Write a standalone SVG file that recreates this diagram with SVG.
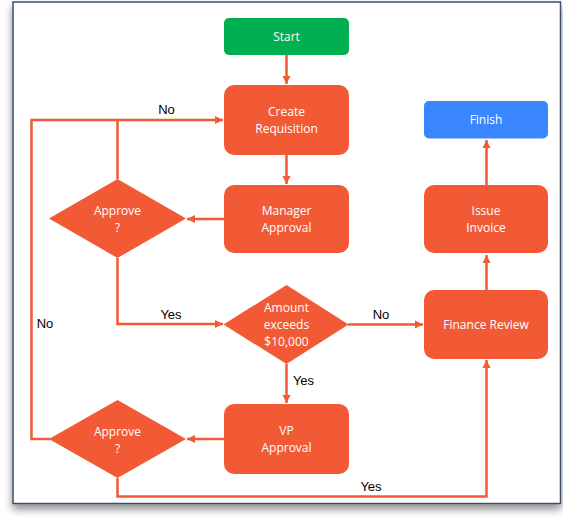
<svg xmlns="http://www.w3.org/2000/svg" width="563" height="518" viewBox="0 0 563 518">
<defs>
<filter id="sh" x="-5%" y="-5%" width="110%" height="112%">
<feDropShadow dx="0" dy="5" stdDeviation="4" flood-color="#000" flood-opacity="0.45"/>
</filter>
<marker id="ah" viewBox="0 0 10 10" refX="10" refY="5" markerWidth="8" markerHeight="9" markerUnits="userSpaceOnUse" orient="auto">
<path d="M0,0 L10,5 L0,10 z" fill="#f15a35"/>
</marker>
<style>
.proc{fill:#f15a35}
.start{fill:#00b050}
.finish{fill:#3a86ff}
.nt{font-family:"Open Sans","Noto Sans",sans-serif;font-size:12px;fill:#ffffff;text-anchor:middle}
.lbl{font-family:"Liberation Sans",Arial,sans-serif;font-size:13px;fill:#000000;text-anchor:middle}
.conn{fill:none;stroke:#f15a35;stroke-width:2.5}
</style>
</defs>
<rect x="13" y="2" width="547.5" height="501.5" fill="#ffffff" stroke="#3d4f6b" stroke-width="1.5" filter="url(#sh)"/>

<g id="connectors">
<path class="conn" d="M286.5,55 V84" marker-end="url(#ah)"/>
<path class="conn" d="M286.5,155 V184" marker-end="url(#ah)"/>
<path class="conn" d="M224,219 H187" marker-end="url(#ah)"/>
<path class="conn" d="M117.5,179 V120 H223" marker-end="url(#ah)"/>
<path class="conn" d="M50,439 H31.5 V120 H117.5"/>
<path class="conn" d="M117.5,258 V324 H223" marker-end="url(#ah)"/>
<path class="conn" d="M348,324.5 H423" marker-end="url(#ah)"/>
<path class="conn" d="M286.5,364 V403" marker-end="url(#ah)"/>
<path class="conn" d="M224,439 H187" marker-end="url(#ah)"/>
<path class="conn" d="M117.5,478 V496.5 H486.5 V360" marker-end="url(#ah)"/>
<path class="conn" d="M486.5,290 V255" marker-end="url(#ah)"/>
<path class="conn" d="M486.5,185 V140" marker-end="url(#ah)"/>
<text class="lbl" x="166.5" y="113.5">No</text>
<text class="lbl" x="171" y="319">Yes</text>
<text class="lbl" x="45" y="327.5">No</text>
<text class="lbl" x="381" y="318.5">No</text>
<text class="lbl" x="303.5" y="385">Yes</text>
<text class="lbl" x="371" y="491">Yes</text>
</g>

<g id="start">
<rect class="start" x="224" y="18" width="125" height="37" rx="5"/>
<text class="nt" x="286.5" y="40.8">Start</text>
</g>
<g id="create">
<rect class="proc" x="224" y="85" width="125" height="70" rx="10"/>
<text class="nt" x="286.5" y="116">Create</text>
<text class="nt" x="286.5" y="133">Requisition</text>
</g>
<g id="manager">
<rect class="proc" x="224" y="185" width="125" height="68" rx="10"/>
<text class="nt" x="286.5" y="215">Manager</text>
<text class="nt" x="286.5" y="232">Approval</text>
</g>
<g id="approve1">
<polygon class="proc" points="117.5,179 186,218.5 117.5,258 49,218.5"/>
<text class="nt" x="117.5" y="215">Approve</text>
<text class="nt" x="117.5" y="232">?</text>
</g>
<g id="amount">
<polygon class="proc" points="286.5,285 348.5,324.5 286.5,364 223.5,324.5"/>
<text class="nt" x="286.5" y="312">Amount</text>
<text class="nt" x="286.5" y="329">exceeds</text>
<text class="nt" x="286.5" y="346">$10,000</text>
</g>
<g id="vp">
<rect class="proc" x="224" y="404" width="125" height="70" rx="10"/>
<text class="nt" x="286.5" y="435">VP</text>
<text class="nt" x="286.5" y="452">Approval</text>
</g>
<g id="approve2">
<polygon class="proc" points="117.5,400 186,439 117.5,478 49,439"/>
<text class="nt" x="117.5" y="435.5">Approve</text>
<text class="nt" x="117.5" y="452.5">?</text>
</g>
<g id="finance">
<rect class="proc" x="424" y="290" width="124" height="69" rx="10"/>
<text class="nt" x="486" y="329">Finance Review</text>
</g>
<g id="invoice">
<rect class="proc" x="424" y="185" width="124" height="68" rx="10"/>
<text class="nt" x="486" y="215">Issue</text>
<text class="nt" x="486" y="232">Invoice</text>
</g>
<g id="finish">
<rect class="finish" x="424" y="101" width="124" height="37.5" rx="5"/>
<text class="nt" x="486" y="124">Finish</text>
</g>
</svg>
